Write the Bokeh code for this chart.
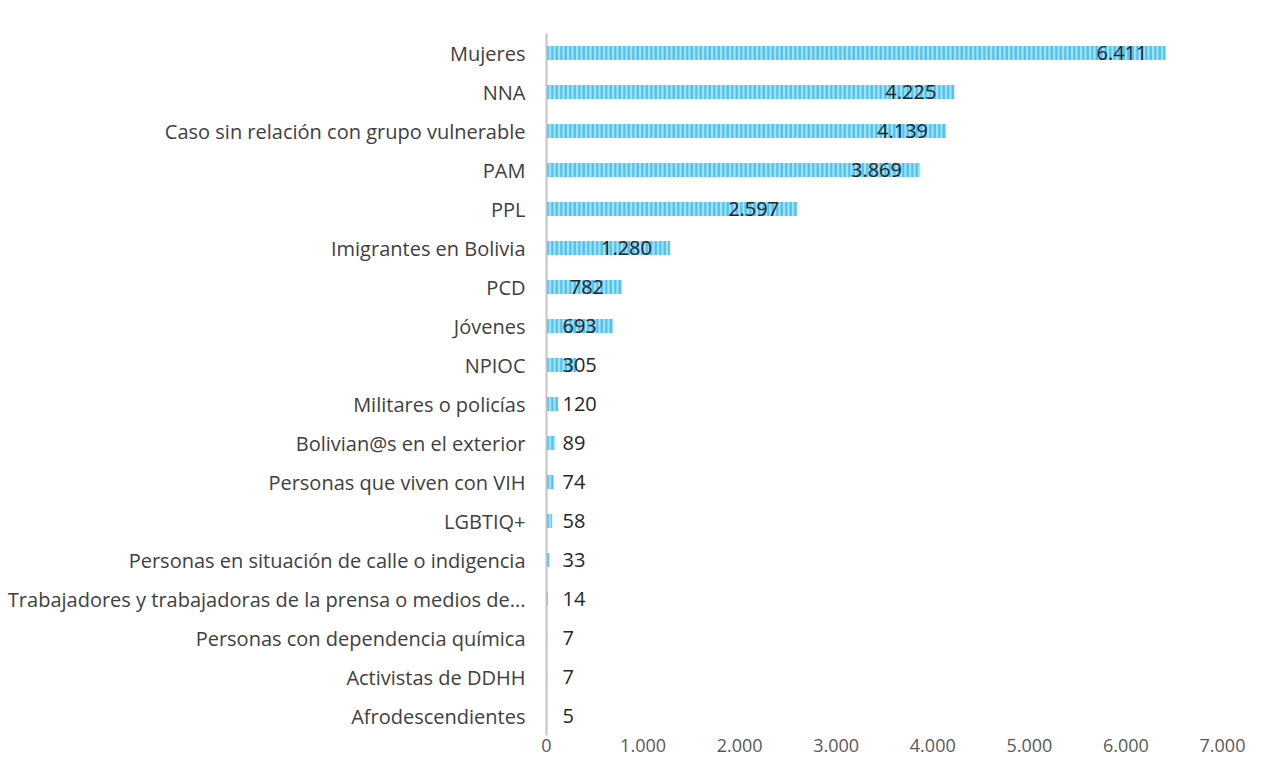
from bokeh.plotting import figure
from bokeh.models import ColumnDataSource, FixedTicker, CustomJSTickFormatter
from bokeh.core.properties import value
from bokeh.embed import file_html
from bokeh.resources import INLINE

categories = [
    "Mujeres", "NNA", "Caso sin relación con grupo vulnerable", "PAM", "PPL",
    "Imigrantes en Bolivia", "PCD", "Jóvenes", "NPIOC", "Militares o policías",
    "Bolivian@s en el exterior", "Personas que viven con VIH", "LGBTIQ+",
    "Personas en situación de calle o indigencia",
    "Trabajadores y trabajadoras de la prensa o medios de...",
    "Personas con dependencia química", "Activistas de DDHH", "Afrodescendientes",
]
values = [6411, 4225, 4139, 3869, 2597, 1280, 782, 693, 305, 120, 89, 74, 58, 33, 14, 7, 7, 5]
labels = ["6.411", "4.225", "4.139", "3.869", "2.597", "1.280", "782", "693", "305",
          "120", "89", "74", "58", "33", "14", "7", "7", "5"]
x_ticks = [0, 1000, 2000, 3000, 4000, 5000, 6000, 7000]

FONT = "Open Sans"
X_MAX = 7000
W, H = 1264, 760
B_LEFT, B_RIGHT, B_TOP = 546, 42, 33
FRAME_W = W - B_LEFT - B_RIGHT
px_per_unit = FRAME_W / X_MAX
VAL_SIZE = 20

def text_w(s, size=VAL_SIZE):
    return sum((0.572 if c.isdigit() else 0.27) for c in s) * size

offsets = []
for v, lab in zip(values, labels):
    bar_px = v * px_per_unit
    offsets.append(max(16, bar_px - 18 - text_w(lab)))

src = ColumnDataSource(dict(cat=categories, val=values, lab=labels, off=offsets,
                            zero=[0] * len(values)))

p = figure(
    y_range=list(reversed(categories)), x_range=(0, X_MAX),
    width=W, height=H, output_backend="svg", toolbar_location=None,
    min_border_left=B_LEFT, min_border_right=B_RIGHT, min_border_top=B_TOP,
    min_border_bottom=H - B_TOP - 702,
)
p.outline_line_color = None
p.xgrid.grid_line_color = None
p.ygrid.grid_line_color = None

p.hbar(y="cat", right="val", left=0, height=0.36, source=src,
       fill_color="#A8E2F8", line_color=None,
       hatch_pattern="vertical_line", hatch_color="#48C0EE", hatch_scale=4.5, hatch_weight=2.2)

p.text(x="zero", y="cat", text="lab", source=src, x_offset="off",
       text_align="left", text_baseline="middle", text_font=value(FONT),
       text_font_size=f"{VAL_SIZE}px", text_color="#262626")

p.xaxis.ticker = FixedTicker(ticks=x_ticks)
p.xaxis.formatter = CustomJSTickFormatter(code="""
    return tick.toString().replace(/\\B(?=(\\d{3})+(?!\\d))/g, '.');
""")
p.xaxis.axis_line_color = None
p.xaxis.major_tick_line_color = None
p.xaxis.minor_tick_line_color = None
p.xaxis.major_tick_out = 0
p.xaxis.major_tick_in = 0
p.xaxis.major_label_standoff = 3
p.xaxis.major_label_text_font = FONT
p.xaxis.major_label_text_font_size = "18px"
p.xaxis.major_label_text_color = "#595959"

p.yaxis.axis_line_color = "#c4c4c4"
p.yaxis.axis_line_width = 2
p.yaxis.major_tick_line_color = None
p.yaxis.minor_tick_line_color = None
p.yaxis.major_label_standoff = 15
p.yaxis.major_label_text_font = FONT
p.yaxis.major_label_text_font_size = "20px"
p.yaxis.major_label_text_color = "#404040"

open("out.html", "w").write(file_html(p, INLINE))
